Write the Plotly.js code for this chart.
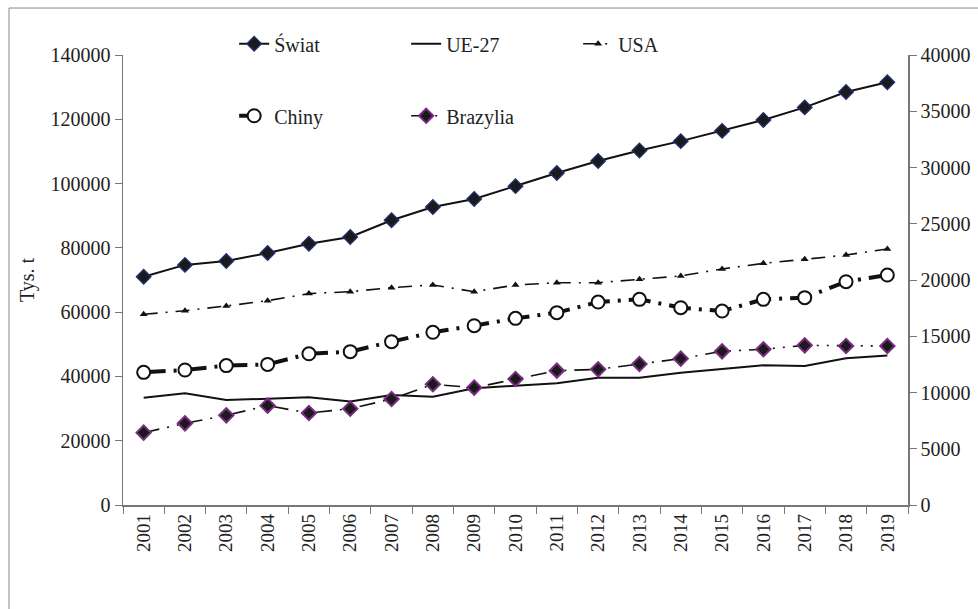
<!DOCTYPE html>
<html>
<head>
<meta charset="utf-8">
<script src="https://cdn.plot.ly/plotly-3.0.1.min.js"></script>
<style>html,body{margin:0;padding:0;background:#fff;}#chart{width:978px;height:609px;}</style>
</head>
<body>
<div id="chart"></div>
<script>
const years = ['2001','2002','2003','2004','2005','2006','2007','2008','2009','2010','2011','2012','2013','2014','2015','2016','2017','2018','2019'];
const swiat = [71000,74700,75900,78400,81300,83400,88600,92700,95200,99200,103300,107000,110300,113200,116400,119800,123700,128500,131500];
const ue27 = [9540,9930,9330,9480,9570,9190,9780,9630,10370,10610,10820,11320,11320,11760,12090,12420,12360,13040,13300];
const usa = [16950,17270,17690,18160,18790,18960,19320,19560,18960,19560,19760,19760,20060,20360,20980,21480,21840,22220,22760];
const chiny = [11790,12000,12390,12500,13440,13630,14520,15350,15940,16590,17100,18040,18280,17540,17240,18280,18430,19850,20440];
const brazylia = [6430,7260,7970,8830,8180,8560,9420,10730,10430,11200,11940,12060,12530,13010,13660,13840,14190,14130,14130];

const traces = [
  {x: years, y: swiat, name: 'Świat', type: 'scatter', mode: 'lines+markers', yaxis: 'y', legend: 'legend',
   line: {color: '#111', width: 2},
   marker: {symbol: 'diamond', size: 11, color: '#1a1a1a', line: {color: '#1f2d66', width: 1.5}}},
  {x: years, y: ue27, name: 'UE-27', type: 'scatter', mode: 'lines', yaxis: 'y2', legend: 'legend',
   line: {color: '#111', width: 2}},
  {x: years, y: usa, name: 'USA', type: 'scatter', mode: 'lines+markers', yaxis: 'y2', legend: 'legend',
   line: {color: '#111', width: 1.6, dash: '14px,8px,2px,8px'},
   marker: {symbol: 'triangle-up', size: 7, color: '#111'}},
  {x: years, y: chiny, name: 'Chiny', type: 'scatter', mode: 'lines+markers', yaxis: 'y2', legend: 'legend2',
   line: {color: '#111', width: 4, dash: '22px,8px,3px,8px'},
   marker: {symbol: 'circle', size: 13, color: '#fff', line: {color: '#111', width: 2}}},
  {x: years, y: brazylia, name: 'Brazylia', type: 'scatter', mode: 'lines+markers', yaxis: 'y2', legend: 'legend2',
   line: {color: '#111', width: 1.6, dash: '16px,8px,2px,8px,2px,8px'},
   marker: {symbol: 'diamond', size: 11, color: '#1a1a1a', line: {color: '#7a2b82', width: 2}}}
];

const FAM = 'Liberation Serif, Times New Roman, serif';
const font = {family: FAM, size: 20, color: '#222'};

const layout = {
  width: 978, height: 609,
  margin: {l: 123, r: 70, t: 55, b: 104},
  paper_bgcolor: '#fff', plot_bgcolor: '#fff',
  font: font,
  showlegend: true,
  xaxis: {
    type: 'category', range: [-0.5, 18.5], tickson: 'boundaries', ticks: 'outside', ticklen: 7, tickcolor: '#777',
    tickangle: -90, showline: true, linecolor: '#777', linewidth: 1.5, showgrid: false, zeroline: false,
    tickfont: {family: FAM, size: 19, color: '#222'}
  },
  yaxis: {
    range: [0, 140000], dtick: 20000, ticks: 'outside', ticklen: 7, tickcolor: '#777',
    showline: true, linecolor: '#777', linewidth: 1.5, showgrid: false, zeroline: false,
    tickformat: 'd', tickfont: {family: FAM, size: 20, color: '#222'},
    title: {text: 'Tys. t', font: {family: FAM, size: 20, color: '#222'}, standoff: 10}
  },
  yaxis2: {
    range: [0, 40000], dtick: 5000, overlaying: 'y', side: 'right', ticks: 'outside', ticklen: 7, tickcolor: '#777',
    showline: true, linecolor: '#777', linewidth: 1.5, showgrid: false, zeroline: false,
    tickformat: 'd', tickfont: {family: FAM, size: 20, color: '#222'}
  },
  legend: {
    orientation: 'h', x: 0.1416, xanchor: 'left', y: 1.025, yanchor: 'middle',
    bgcolor: 'rgba(0,0,0,0)', entrywidth: 127, entrywidthmode: 'pixels',
    font: {family: FAM, size: 20, color: '#222'}, traceorder: 'normal'
  },
  legend2: {
    orientation: 'h', x: 0.1416, xanchor: 'left', y: 0.865, yanchor: 'middle',
    bgcolor: 'rgba(0,0,0,0)', entrywidth: 127, entrywidthmode: 'pixels',
    font: {family: FAM, size: 20, color: '#222'}, traceorder: 'normal'
  },
  shapes: [
    {type: 'rect', xref: 'paper', yref: 'paper', x0: -0.1452, x1: 1.095, y0: -0.25, y1: 1.1044,
     line: {color: '#888', width: 1}, fillcolor: 'rgba(0,0,0,0)', layer: 'below'}
  ]
};

Plotly.newPlot('chart', traces, layout, {displayModeBar: false, staticPlot: true});
</script>
</body>
</html>
